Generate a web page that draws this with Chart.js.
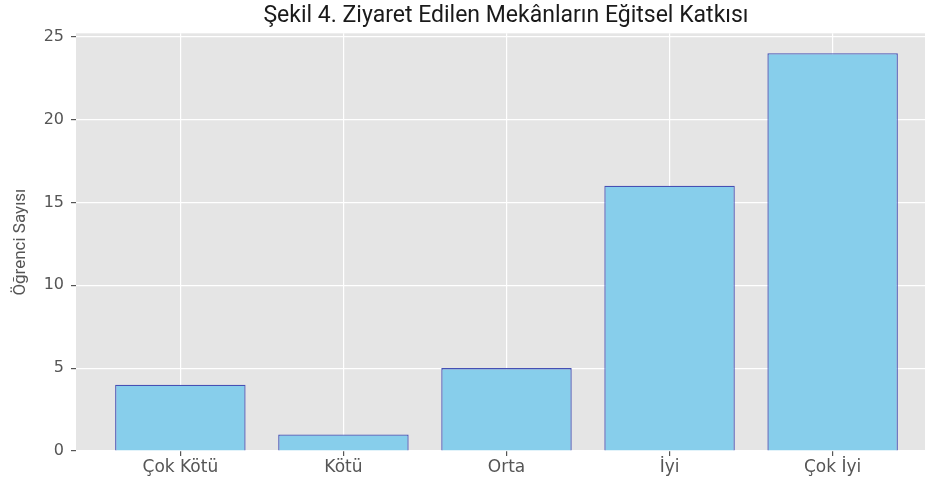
<!DOCTYPE html>
<html>
<head>
<meta charset="utf-8">
<script src="https://cdn.jsdelivr.net/npm/chart.js@4/dist/chart.umd.min.js"></script>
<style>
  html, body { margin: 0; padding: 0; overflow: hidden; background: #fff; }
  canvas { display: block; }
</style>
</head>
<body>
<canvas id="chartBar" width="1012" height="485"></canvas>
<script>
var categories = ["Çok Kötü", "Kötü", "Orta", "İyi", "Çok İyi"];
var counts = [4, 1, 5, 16, 24];
var yTicks = [0, 5, 10, 15, 20, 25];

var bar = document.getElementById("chartBar");

var panelBg = {
    id: "panelBg",
    beforeDraw: function (chart) {
        var a = chart.chartArea;
        var ctx = chart.ctx;
        ctx.save();
        ctx.fillStyle = "#E5E5E5";
        ctx.fillRect(a.left, a.top, a.right - a.left, a.bottom - a.top);
        ctx.restore();
    }
};

// canvas is wider than the window; the right part is cut off like the original figure
new Chart(bar, {
    type: "bar",
    plugins: [panelBg],
    data: {
        datasets: [{
            data: counts.map(function (v, i) { return { x: i, y: v }; }),
            backgroundColor: "#87CEEB",
            borderColor: "#4650B4",
            borderWidth: 1.3,
            categoryPercentage: 1,
            barPercentage: 0.8
        }]
    },
    options: {
        responsive: false,
        animation: false,
        layout: { padding: 0 },
        plugins: {
            legend: { display: false },
            tooltip: { enabled: false },
            title: {
                display: true,
                text: "Şekil 4. Ziyaret Edilen Mekânların Eğitsel Katkısı",
                color: "#1a1a1a",
                font: { family: "Roboto", size: 23, weight: "normal", lineHeight: 1.1 },
                padding: { top: 4, bottom: 4 }
            }
        },
        scales: {
            x: {
                type: "linear",
                min: -0.64,
                max: 5.1,
                offset: false,
                afterBuildTicks: function (scale) {
                    scale.ticks = categories.map(function (c, i) { return { value: i }; });
                },
                afterFit: function (scale) { scale.height = 34; },
                ticks: {
                    color: "#555555",
                    font: { family: "DejaVu Sans", size: 17 },
                    padding: 1,
                    maxRotation: 0,
                    autoSkip: false,
                    callback: function (v) { return categories[v]; }
                },
                grid: { offset: false, color: "#FFFFFF", lineWidth: 1.2, tickColor: "#555555", tickLength: 5 },
                border: { display: false }
            },
            y: {
                min: 0,
                max: 25.2,
                afterBuildTicks: function (scale) {
                    scale.ticks = yTicks.map(function (v) { return { value: v }; });
                },
                afterFit: function (scale) { scale.width = 76; },
                ticks: {
                    color: "#555555",
                    font: { family: "DejaVu Sans", size: 16 },
                    padding: 7
                },
                grid: { color: "#FFFFFF", lineWidth: 1.2, tickColor: "#555555", tickLength: 5 },
                border: { display: false },
                title: {
                    display: true,
                    text: "Öğrenci Sayısı",
                    color: "#555555",
                    font: { family: "Roboto", size: 17 },
                    padding: { top: 11, bottom: 0 }
                }
            }
        }
    }
});
</script>
</body>
</html>
